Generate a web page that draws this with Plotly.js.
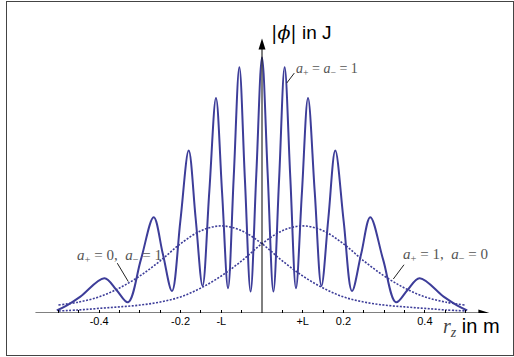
<!DOCTYPE html>
<html>
<head>
<meta charset="utf-8">
<script src="https://cdn.plot.ly/plotly-3.0.1.min.js"></script>
<style>
  html, body { margin: 0; padding: 0; background: #fff; }
  #wrap { position: relative; width: 514px; height: 357px; }
  #chart { position: absolute; left: 0; top: 0; width: 514px; height: 357px; }
  #frame { position: absolute; left: 6px; top: 1px; width: 506px; height: 353px;
           border: 1px solid #444; pointer-events: none; }
</style>
</head>
<body>
<div id="wrap">
  <div id="chart"></div>
  <div id="frame"></div>
</div>
<script>
// Interference pattern |phi| (a+ = a- = 1), sampled at its peaks, troughs and flanks
const rzBoth = [
  -0.504, -0.479, -0.446, -0.387, -0.3575, -0.329, -0.2975, -0.266, -0.2435, -0.221,
  -0.2005, -0.180, -0.163, -0.146, -0.1295, -0.113, -0.098, -0.0834, -0.0695, -0.0556,
  -0.042, -0.028, -0.014, 0,
  0.014, 0.028, 0.042, 0.0556, 0.0695, 0.0834, 0.098, 0.113, 0.1295, 0.146,
  0.163, 0.180, 0.2005, 0.221, 0.2435, 0.266, 0.2975, 0.329, 0.3575, 0.387,
  0.446, 0.479, 0.504
];
const phiBoth = [
  0.010, 0.030, 0.064, 0.136, 0.090, 0.042, 0.209, 0.375, 0.231, 0.086,
  0.361, 0.636, 0.371, 0.106, 0.474, 0.842, 0.470, 0.097, 0.530, 0.962,
  0.523, 0.084, 0.542, 1.000,
  0.542, 0.084, 0.523, 0.962, 0.530, 0.097, 0.470, 0.842, 0.474, 0.106,
  0.371, 0.636, 0.361, 0.086, 0.231, 0.375, 0.209, 0.042, 0.090, 0.136,
  0.064, 0.030, 0.010
];

// Single packets: a+ = 0, a- = 1 (centred on -L) and a+ = 1, a- = 0 (centred on +L)
const rzSingle = [
  -0.50, -0.45, -0.40, -0.35, -0.30, -0.25, -0.20, -0.15, -0.10, -0.05, 0,
  0.05, 0.10, 0.15, 0.20, 0.25, 0.30, 0.35, 0.40, 0.45, 0.50
];
const phiMinus = [
  0.031, 0.043, 0.063, 0.098, 0.145, 0.204, 0.271, 0.322, 0.341, 0.322, 0.271,
  0.204, 0.145, 0.098, 0.063, 0.043, 0.031, 0.024, 0.018, 0.012, 0.008
];
const phiPlus = [
  0.008, 0.012, 0.018, 0.024, 0.031, 0.043, 0.063, 0.098, 0.145, 0.204, 0.271,
  0.322, 0.341, 0.322, 0.271, 0.204, 0.145, 0.098, 0.063, 0.043, 0.031
];

// Axis ticks: minor marks every 0.05, labels at selected ones (L = 0.1 m)
const tickPos = [
  -0.50, -0.45, -0.40, -0.35, -0.30, -0.25, -0.20, -0.15, -0.10, -0.05,
  0.05, 0.10, 0.15, 0.20, 0.25, 0.30, 0.35, 0.40, 0.45, 0.50
];
const tickLabels = [
  '', '', '-0.4', '', '', '', '-0.2', '', '-L', '',
  '', '+L', '', '0.2', '', '', '', '0.4', '', ''
];

const blue = 'rgb(61,61,153)';
const serif = 'Liberation Serif';
const sans = 'Liberation Sans, Arial, sans-serif';

const traces = [
  { x: rzSingle, y: phiMinus, mode: 'lines', line: { color: blue, width: 1.6, dash: '2px,1.5px', shape: 'spline', smoothing: 1 }, hoverinfo: 'skip' },
  { x: rzSingle, y: phiPlus, mode: 'lines', line: { color: blue, width: 1.6, dash: '2px,1.5px', shape: 'spline', smoothing: 1 }, hoverinfo: 'skip' },
  { x: rzBoth, y: phiBoth, mode: 'lines', line: { color: blue, width: 2, shape: 'spline', smoothing: 1 }, hoverinfo: 'skip' }
];

const layout = {
  width: 514, height: 357,
  margin: { l: 34, r: 24, t: 32, b: 44 },
  paper_bgcolor: '#fff', plot_bgcolor: '#fff',
  showlegend: false,
  xaxis: {
    range: [-0.56, 0.56], showgrid: false, zeroline: false, showline: false,
    ticks: 'inside', ticklen: 3, tickwidth: 1, tickcolor: '#000',
    tickvals: tickPos, ticktext: tickLabels,
    tickfont: { family: sans, size: 11, color: '#000' }, fixedrange: true
  },
  yaxis: { range: [0, 1.1], visible: false, fixedrange: true },
  shapes: [
    // horizontal axis with arrow
    { type: 'line', xref: 'x', yref: 'y', x0: -0.5565, x1: 0.552, y0: 0, y1: 0, line: { color: '#000', width: 1 } },
    { type: 'path', xref: 'x', yref: 'y', xsizemode: 'pixel', ysizemode: 'pixel', xanchor: 0.5585, yanchor: 0,
      path: 'M0,0 L-11,3.5 L-11,-3.5 Z', fillcolor: '#000', line: { width: 0 } },
    // vertical axis with arrow
    { type: 'line', xref: 'x', yref: 'y', x0: 0, x1: 0, y0: -0.01, y1: 1.05, line: { color: '#000', width: 1 } },
    { type: 'path', xref: 'x', yref: 'y', xsizemode: 'pixel', ysizemode: 'pixel', xanchor: 0, yanchor: 1.075,
      path: 'M0,0 L-3.5,-11 L3.5,-11 Z', fillcolor: '#000', line: { width: 0 } },
    // label pointers
    { type: 'line', xref: 'x', yref: 'y', xsizemode: 'pixel', ysizemode: 'pixel', xanchor: 0.0607, yanchor: 0.900,
      x0: 0, y0: 0, x1: 7.6, y1: 10, line: { color: '#222', width: 1 } },
    { type: 'line', xref: 'x', yref: 'y', xsizemode: 'pixel', ysizemode: 'pixel', xanchor: -0.3284, yanchor: 0.123,
      x0: 0, y0: 0, x1: -11, y1: 18.4, line: { color: '#222', width: 1 } },
    { type: 'line', xref: 'x', yref: 'y', xsizemode: 'pixel', ysizemode: 'pixel', xanchor: 0.3225, yanchor: 0.133,
      x0: 0, y0: 0, x1: 10.7, y1: 14.3, line: { color: '#222', width: 1 } }
  ],
  annotations: [
    { xref: 'paper', yref: 'paper', x: 0.586, y: 1.0, showarrow: false, xanchor: 'center', yanchor: 'middle',
      text: '<span style="font-family:DejaVu Serif;color:#000">|<i>ϕ</i>|</span> in J',
      font: { family: sans, size: 19, color: '#000' } },
    { xref: 'paper', yref: 'paper', x: 0.9594, y: -0.053, showarrow: false, xanchor: 'center', yanchor: 'middle',
      text: '<span style="font-family:Liberation Serif;color:#444"><i>r</i><sub><i>z</i></sub></span> in m',
      font: { family: sans, size: 20, color: '#000' } },
    { xref: 'x', yref: 'y', x: 0.079, y: 0.955, showarrow: false, xanchor: 'left', yanchor: 'middle',
      text: '<i>a</i><sub>+</sub> = <i>a</i><sub>−</sub> = 1',
      font: { family: serif, size: 14, color: '#555' } },
    { xref: 'x', yref: 'y', x: -0.459, y: 0.223, showarrow: false, xanchor: 'left', yanchor: 'middle',
      text: '<i>a</i><sub>+</sub> = 0,\u2002<i>a</i><sub>−</sub> = 1',
      font: { family: serif, size: 15, color: '#555' } },
    { xref: 'x', yref: 'y', x: 0.341, y: 0.227, showarrow: false, xanchor: 'left', yanchor: 'middle',
      text: '<i>a</i><sub>+</sub> = 1,\u2002<i>a</i><sub>−</sub> = 0',
      font: { family: serif, size: 15, color: '#555' } }
  ]
};

Plotly.newPlot('chart', traces, layout, { displayModeBar: false, staticPlot: true });
</script>
</body>
</html>
